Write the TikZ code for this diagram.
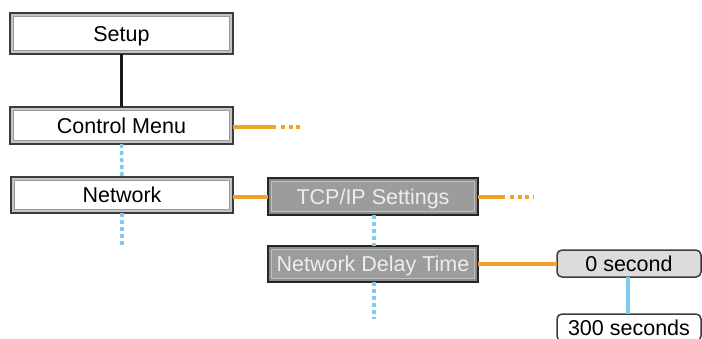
\documentclass[tikz,border=0pt]{standalone}
\usepackage{fontspec}
\setmainfont{Liberation Sans}
\definecolor{orangeline}{HTML}{F2A22A}
\definecolor{blueline}{HTML}{7CCBF0}
\definecolor{boxdark}{HTML}{3C3C3C}
\definecolor{boxband}{HTML}{C4C4C4}
\definecolor{boxinner}{HTML}{9A9A9A}
\definecolor{graybox}{HTML}{9C9C9C}
\definecolor{grayband}{HTML}{8A8A8A}
\definecolor{grayinner}{HTML}{C2C2C2}
\definecolor{roundfill}{HTML}{DCDCDC}
\begin{document}
\begin{tikzpicture}[x=1pt,y=-1pt,
  every node/.style={font=\fontsize{21.5}{23}\selectfont, inner sep=0pt, outer sep=0pt,
    text height=15.4pt, text depth=0pt},
  whitebox/.style={draw=boxdark, line width=2.4pt, fill=boxband, minimum width=#1,
    path picture={\draw[boxinner, line width=1pt, fill=white]
      ([shift={(3.5pt,-3.5pt)}]path picture bounding box.north west) rectangle
      ([shift={(-3.5pt,3.5pt)}]path picture bounding box.south east);}},
  darkbox/.style={draw=black!85, line width=2.4pt, fill=grayband, text=white!93!black, minimum width=#1,
    path picture={\draw[grayinner, line width=1pt, fill=graybox]
      ([shift={(3.5pt,-3.5pt)}]path picture bounding box.north west) rectangle
      ([shift={(-3.5pt,3.5pt)}]path picture bounding box.south east);}},
  roundbox/.style={draw=boxdark, line width=1.5pt, rounded corners=5pt, minimum width=144pt, minimum height=27pt},
  orangecon/.style={draw=orangeline, line width=3.5pt},
  orangedots/.style={draw=orangeline, line width=3.5pt, dash pattern=on 4pt off 3.5pt},
  bluedots/.style={draw=blueline, line width=3.5pt, dash pattern=on 4pt off 3pt},
  bluecon/.style={draw=blueline, line width=3.5pt},
  blackcon/.style={draw=black!90, line width=3.5pt}
]
\useasboundingbox (0,0) rectangle (702,338);

% nodes
\node[whitebox=223pt, minimum height=41.5pt] (setup) at (121.5,33.5) {Setup};
\node[whitebox=223pt, minimum height=37pt] (control) at (121.5,125.5) {Control Menu};
\node[whitebox=222pt, minimum height=36pt] (network) at (122,195) {Network};
\node[darkbox=210pt, minimum height=37pt] (tcpip) at (373,196.5) {TCP/IP Settings};
\node[darkbox=210pt, minimum height=36pt] (ndt) at (373,264) {Network Delay Time};
\node[roundbox, fill=roundfill] (zero) at (629,263.5) {0 second};
\node[roundbox, fill=white, anchor=north] (three) at (629,314) {300 seconds};

% free ends
\coordinate (c1) at (276,127);
\coordinate (c1d) at (281,127);
\coordinate (c1e) at (302,127);
\coordinate (c2) at (505,197);
\coordinate (c2d) at (510,197);
\coordinate (c2e) at (534,197);
\coordinate (nb) at (122,246);
\coordinate (ndtb) at (374,319);

% connectors
\draw[blackcon] (setup.south) -- (control.north);
\draw[bluedots] (control.south) -- (network.north);
\draw[bluedots] (network.south) -- (nb);
\draw[orangecon] (control.east |- c1) -- (c1);
\draw[orangedots] (c1d) -- (c1e);
\draw[orangecon] (network.east |- c2) -- (tcpip.west |- c2);
\draw[orangecon] (tcpip.east |- c2) -- (c2);
\draw[orangedots] (c2d) -- (c2e);
\draw[bluedots] (tcpip.south -| ndtb) -- (ndt.north -| ndtb);
\draw[bluedots] (ndt.south -| ndtb) -- (ndtb);
\draw[orangecon] (ndt.east) -- (zero.west |- ndt.east);
\draw[bluecon] (zero.south -| 628,0) -- (three.north -| 628,0);
\end{tikzpicture}
\end{document}
